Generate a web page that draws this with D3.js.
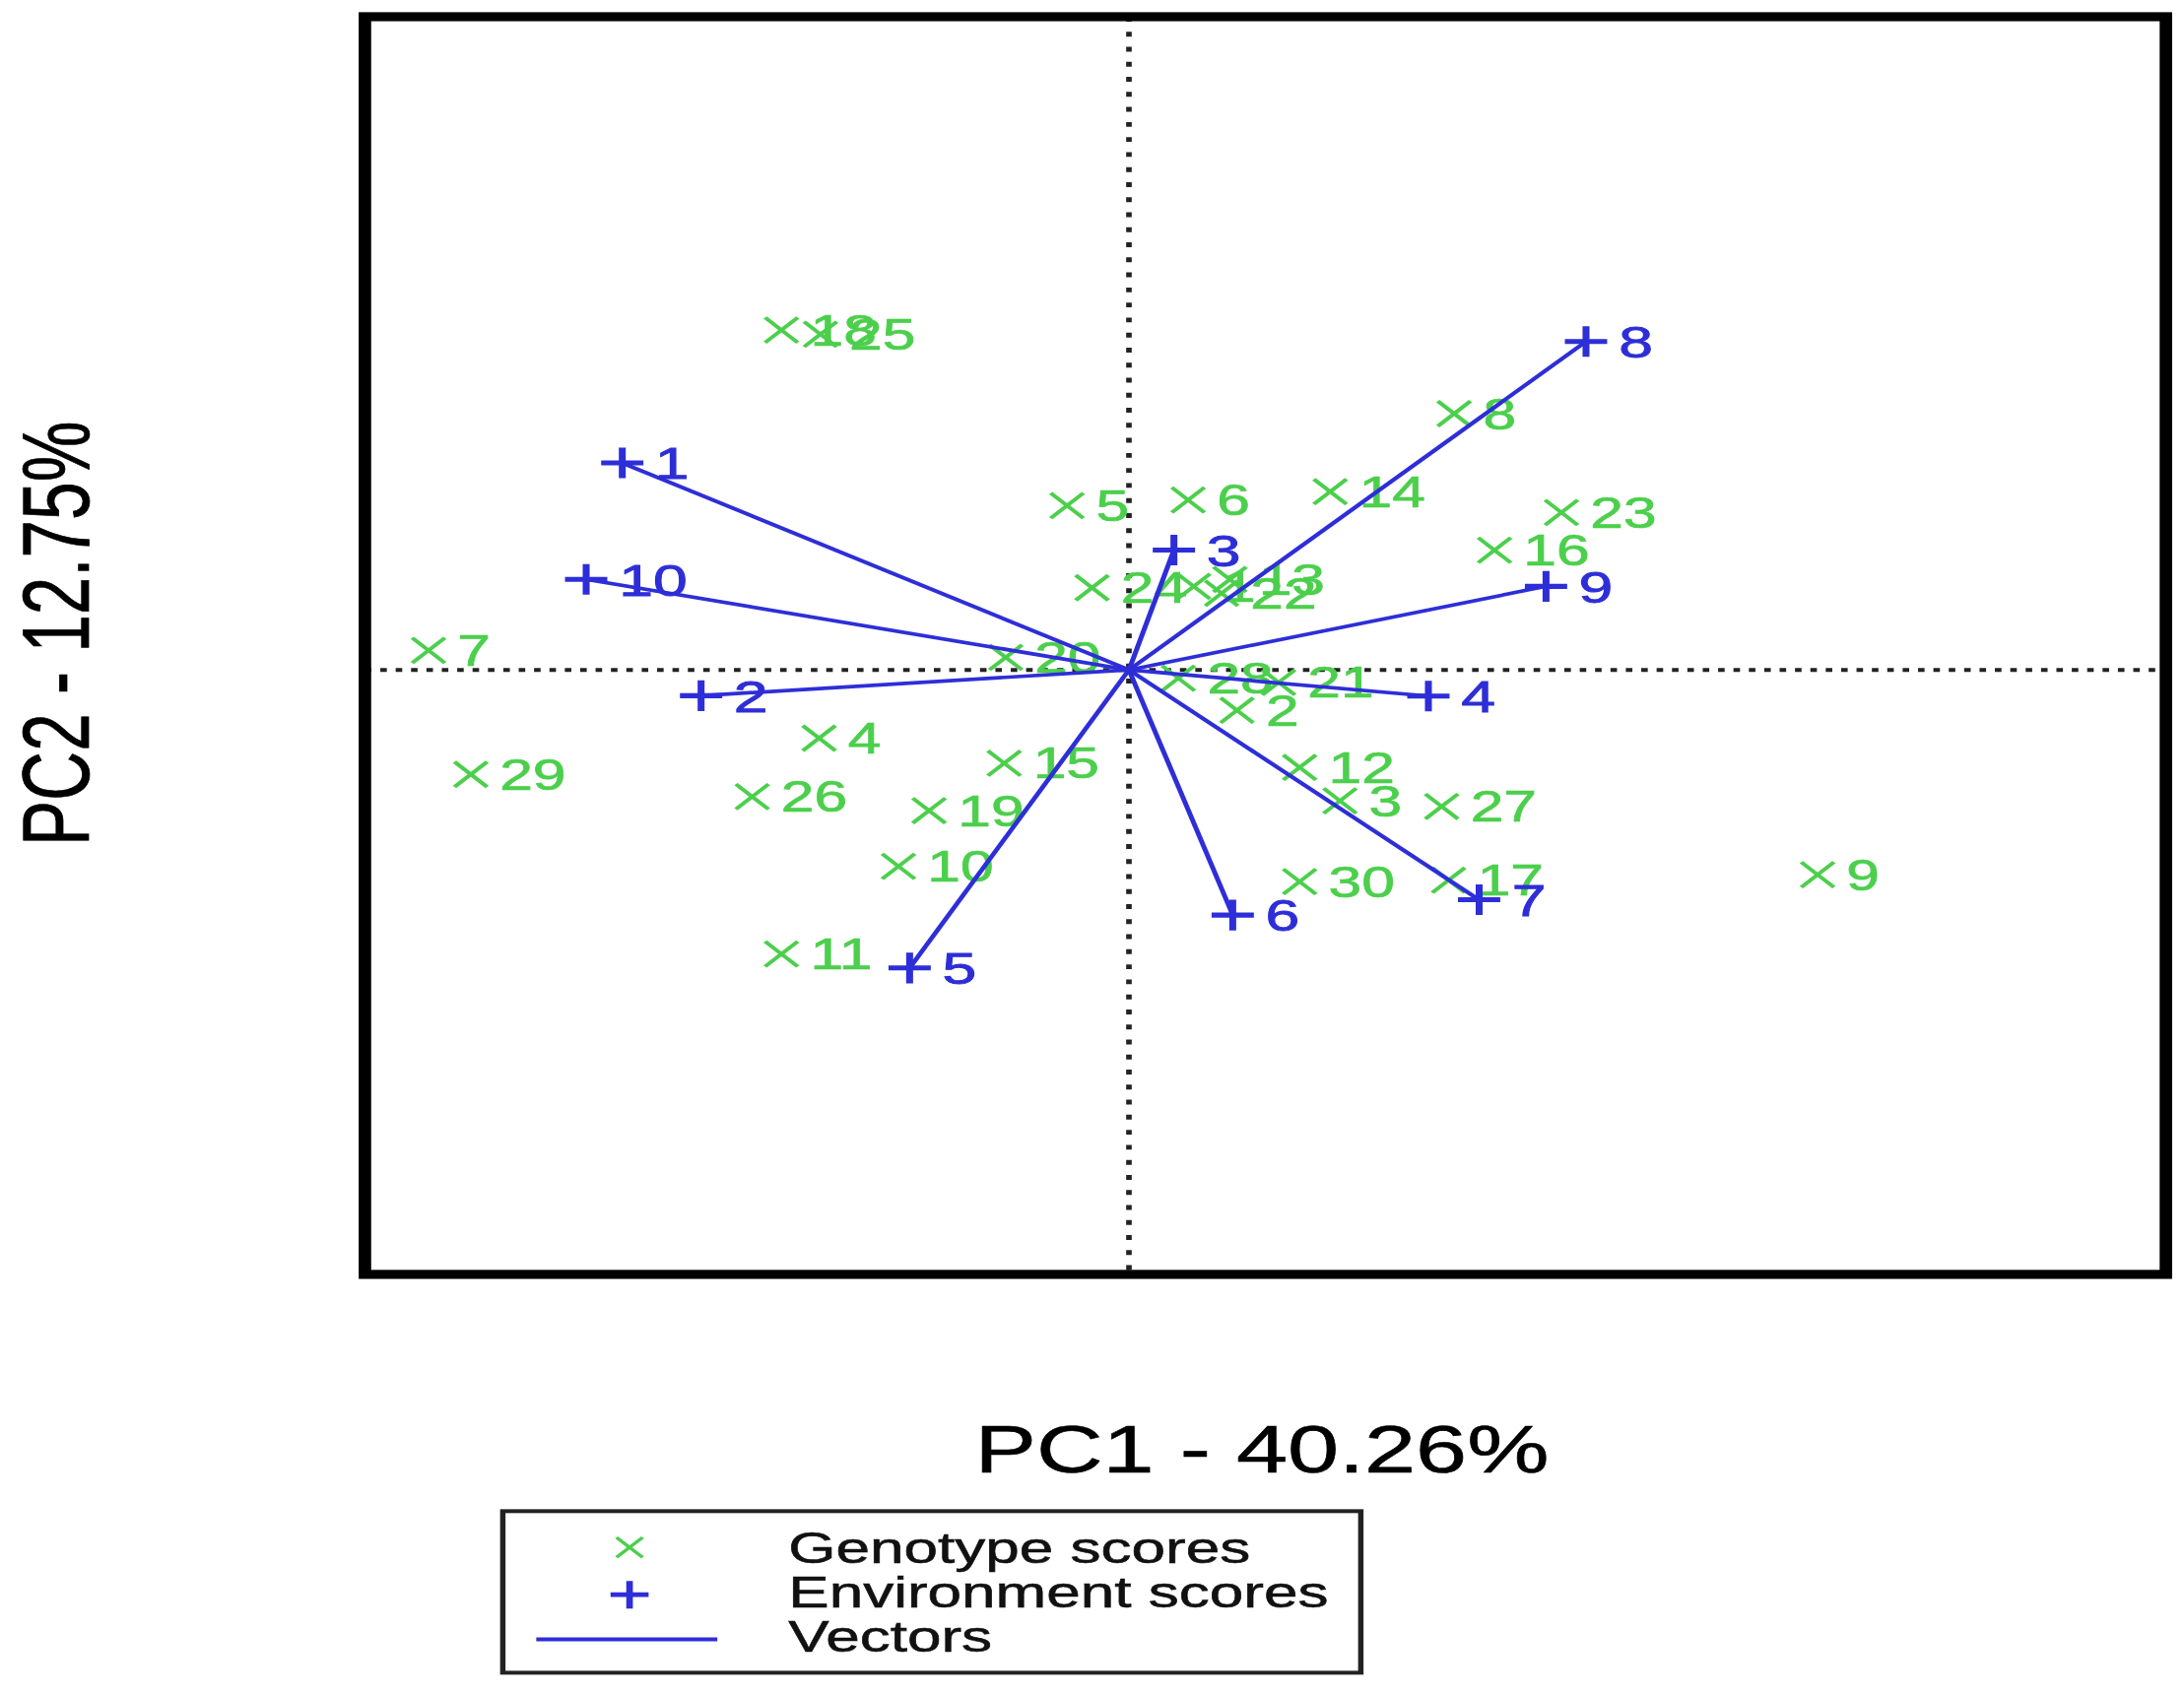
<!DOCTYPE html>
<html>
<head>
<meta charset="utf-8">
<script src="https://cdn.jsdelivr.net/npm/d3@7"></script>
<style>
  body { margin: 0; background: #fff; }
  svg { display: block; }
  text { font-family: "Liberation Sans", Arial, sans-serif; }
</style>
</head>
<body>
<div id="chart"></div>
<script>
// genotype scores (PC1, PC2)
const genotypeIds = ["1","2","3","4","5","6","7","8","9","10","11","12","13","14","15",
                     "16","17","18","19","20","21","22","23","24","25","26","27","28","29","30"];
const genotypePC1 = [0.337, 0.562, 1.098, -1.612, -0.322, 0.308, -3.644, 1.692, 3.583, -1.199,
                     -1.808, 0.888, 0.525, 1.047, -0.649, 1.902, 1.663, -1.808, -1.040, -0.641,
                     0.779, 0.482, 2.250, -0.192, -1.605, -1.960, 1.627, 0.257, -3.424, 0.888];
const genotypePC2 = [0.60, -0.29, -0.94, -0.49, 1.18, 1.22, 0.14, 1.84, -1.47, -1.41,
                     -2.04, -0.70, 0.65, 1.28, -0.67, 0.86, -1.51, 2.44, -1.01, 0.09,
                     -0.09, 0.55, 1.13, 0.59, 2.41, -0.91, -0.98, -0.06, -0.75, -1.52];

// environment scores (PC1, PC2), drawn as vectors from the origin
const environmentIds = ["1","2","3","4","5","6","7","8","9","10"];
const environmentPC1 = [-2.636, -2.226, 0.234, 1.558, -1.141, 0.540, 1.822, 2.378, 2.170, -2.824];
const environmentPC2 = [1.486, -0.185, 0.861, -0.188, -2.140, -1.760, -1.650, 2.358, 0.600, 0.650];

const xTitle = "PC1 - 40.26%";
const yTitle = "PC2 - 12.75%";
const legendLabels = ["Genotype scores", "Environment scores", "Vectors"];

const green = "#4ccf4c";
const blue = "#2e2ed8";

// the reference is stretched horizontally, so draw in a narrower box and stretch it
const K = 1.38;
const VW = 1568 / K, VH = 1217;

const svg = d3.select("#chart").append("svg")
    .attr("width", 2217)
    .attr("height", 1721)
    .attr("viewBox", `0 0 ${VW} ${VH}`)
    .attr("preserveAspectRatio", "none");

svg.append("rect").attr("width", VW).attr("height", VH).attr("fill", "#fff");

var plot = {left: 262 / K, right: 1555 / K, top: 12, bottom: 915};

var x = d3.scaleLinear()
    .domain([-3.975, 5.395])
    .range([plot.left, plot.right]);

var y = d3.scaleLinear()
    .domain([-4.34, 4.69])
    .range([plot.bottom, plot.top]);

// dotted zero lines
svg.append("line")
    .attr("x1", plot.left).attr("x2", plot.right)
    .attr("y1", y(0)).attr("y2", y(0))
    .attr("stroke", "#222").attr("stroke-width", 2.8)
    .attr("stroke-dasharray", "3.4,4.6");

svg.append("line")
    .attr("x1", x(0)).attr("x2", x(0))
    .attr("y1", plot.top).attr("y2", plot.bottom)
    .attr("stroke", "#222").attr("stroke-width", 2.9)
    .attr("stroke-dasharray", "3.5,7.3");

// genotype markers + labels
var genotypes = genotypeIds.map((id, i) => ({id: id, pc1: genotypePC1[i], pc2: genotypePC2[i]}));
var crossPath = "M-8.5,-9L8.5,9M-8.5,9L8.5,-9";
var plusPath = "M-11,0L11,0M0,-11L0,11";

var gGeno = svg.append("g");
gGeno.selectAll("path")
    .data(genotypes)
    .enter().append("path")
    .attr("d", crossPath)
    .attr("transform", d => "translate(" + x(d.pc1) + "," + y(d.pc2) + ")")
    .attr("stroke", green)
    .attr("stroke-width", 2.4)
    .attr("fill", "none");

gGeno.selectAll("text")
    .data(genotypes)
    .enter().append("text")
    .attr("x", d => x(d.pc1) + 15)
    .attr("y", d => y(d.pc2) + 11)
    .attr("font-size", 31)
    .attr("fill", green)
    .attr("stroke", green)
    .attr("stroke-width", 0.5)
    .text(d => d.id);

// environment vectors
var environments = environmentIds.map((id, i) => ({id: id, pc1: environmentPC1[i], pc2: environmentPC2[i]}));

svg.append("g")
    .selectAll("line")
    .data(environments)
    .enter().append("line")
    .attr("x1", x(0)).attr("y1", y(0))
    .attr("x2", d => x(d.pc1)).attr("y2", d => y(d.pc2))
    .attr("stroke", blue)
    .attr("stroke-width", 2.6);

var gEnv = svg.append("g");
gEnv.selectAll("path")
    .data(environments)
    .enter().append("path")
    .attr("d", plusPath)
    .attr("transform", d => "translate(" + x(d.pc1) + "," + y(d.pc2) + ")")
    .attr("stroke", blue)
    .attr("stroke-width", 3.6)
    .attr("fill", "none");

gEnv.selectAll("text")
    .data(environments)
    .enter().append("text")
    .attr("x", d => x(d.pc1) + 17)
    .attr("y", d => y(d.pc2) + 11.5)
    .attr("font-size", 32)
    .attr("fill", blue)
    .attr("stroke", blue)
    .attr("stroke-width", 0.6)
    .text(d => d.id);

// frame
svg.append("rect")
    .attr("x", plot.left).attr("y", plot.top)
    .attr("width", plot.right - plot.left)
    .attr("height", plot.bottom - plot.top)
    .attr("fill", "none")
    .attr("stroke", "#000")
    .attr("stroke-width", 6.5);

// axis titles
svg.append("text")
    .attr("x", 906 / K)
    .attr("y", 1057)
    .attr("text-anchor", "middle")
    .attr("font-size", 48)
    .attr("fill", "#000")
    .attr("stroke", "#000")
    .attr("stroke-width", 0.4)
    .text(xTitle);

svg.append("text")
    .attr("transform", "translate(" + (64 / K) + ",455) rotate(-90)")
    .attr("text-anchor", "middle")
    .attr("font-size", 49)
    .attr("fill", "#000")
    .attr("stroke", "#000")
    .attr("stroke-width", 0.4)
    .text(yTitle);

// legend
var legend = svg.append("g");
legend.append("rect")
    .attr("x", 361 / K).attr("y", 1085)
    .attr("width", (977 - 361) / K).attr("height", 116)
    .attr("fill", "#fff")
    .attr("stroke", "#222")
    .attr("stroke-width", 2.8);

var rowY = [1111, 1143, 1175];
legend.append("path")
    .attr("d", crossPath)
    .attr("transform", "translate(" + (452 / K) + "," + rowY[0] + ") scale(0.8)")
    .attr("stroke", green).attr("stroke-width", 2.6).attr("fill", "none");
legend.append("path")
    .attr("d", plusPath)
    .attr("transform", "translate(" + (452 / K) + "," + (rowY[1] + 2) + ") scale(0.9)")
    .attr("stroke", blue).attr("stroke-width", 3.8).attr("fill", "none");
legend.append("line")
    .attr("x1", 385 / K).attr("x2", 515 / K)
    .attr("y1", rowY[2] + 2).attr("y2", rowY[2] + 2)
    .attr("stroke", blue).attr("stroke-width", 2.8);

legend.selectAll("text.lab")
    .data(legendLabels)
    .enter().append("text")
    .attr("class", "lab")
    .attr("x", 566 / K)
    .attr("y", (d, i) => rowY[i] + 11)
    .attr("font-size", 31.8)
    .attr("fill", "#111")
    .attr("stroke", "#111")
    .attr("stroke-width", 0.4)
    .text(d => d);
</script>
</body>
</html>
